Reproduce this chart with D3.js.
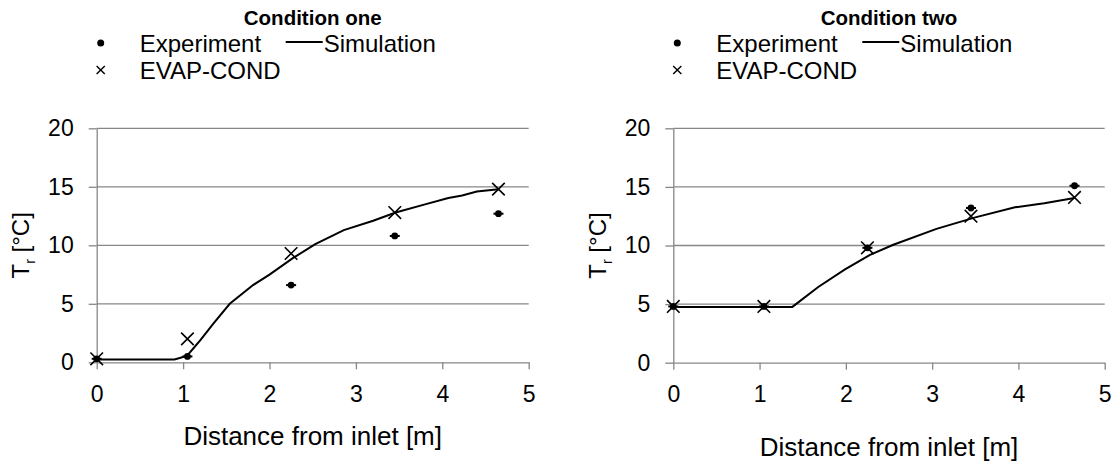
<!DOCTYPE html>
<html>
<head>
<meta charset="utf-8">
<script src="https://cdn.jsdelivr.net/npm/d3@7"></script>
<style>
  html, body { margin: 0; padding: 0; background: #fff; }
  svg { display: block; font-family: "Liberation Sans", Arial, sans-serif; }
</style>
</head>
<body>
<svg id="chart" width="1116" height="461"></svg>
<script>
// Measurement stations along the tube [m]
const distances = [0, 1.05, 2.25, 3.45, 4.65];

// Condition one
const experimentOne = [0.3, 0.5, 6.6, 10.8, 12.7];
const evapCondOne = [0.3, 2.0, 9.3, 12.8, 14.8];
const simDistanceOne = [0, 0.9, 1.0, 1.05, 1.12, 1.2, 1.35, 1.54, 1.81, 2.0, 2.27, 2.53, 2.86, 3.2, 3.46, 3.8, 4.07, 4.23, 4.4, 4.65];
const simulationOne = [0.25, 0.25, 0.45, 0.6, 1.2, 1.9, 3.3, 5.0, 6.6, 7.5, 8.9, 10.1, 11.3, 12.1, 12.8, 13.5, 14.05, 14.25, 14.6, 14.8];

// Condition two
const experimentTwo = [4.8, 4.8, 9.8, 13.2, 15.1];
const evapCondTwo = [4.8, 4.8, 9.8, 12.5, 14.1];
const simDistanceTwo = [0, 1.38, 1.68, 1.99, 2.28, 2.55, 3.05, 3.5, 3.96, 4.3, 4.65];
const simulationTwo = [4.76, 4.76, 6.46, 7.96, 9.2, 10.06, 11.42, 12.4, 13.26, 13.6, 14.05];

// Axis ticks and labels
const xTicks = [0, 1, 2, 3, 4, 5];
const yTicks = [0, 5, 10, 15, 20];
const panelTitles = ["Condition one", "Condition two"];
const xAxisTitle = "Distance from inlet [m]";
const legendLabels = ["Experiment", "Simulation", "EVAP-COND"];

const panels = [
  { title: panelTitles[0], exp: experimentOne, evap: evapCondOne, simX: simDistanceOne, simY: simulationOne,
    left: 96.7, right: 528.7, top: 128.3, bottom: 362.3, xTitleY: 445, yTitleX: 29 },
  { title: panelTitles[1], exp: experimentTwo, evap: evapCondTwo, simX: simDistanceTwo, simY: simulationTwo,
    left: 673.3, right: 1104.7, top: 128.3, bottom: 362.7, xTitleY: 456, yTitleX: 606 }
];

const gridColor = "#878787";
const svg = d3.select("#chart");

panels.forEach(p => {
  const x = d3.scaleLinear().domain([0, 5]).range([p.left, p.right]);
  const y = d3.scaleLinear().domain([0, 20]).range([p.bottom, p.top]);
  const g = svg.append("g");

  // Horizontal gridlines
  g.append("g").selectAll("line").data(yTicks.filter(v => v > 0)).join("line")
    .attr("x1", p.left).attr("x2", p.right)
    .attr("y1", d => y(d)).attr("y2", d => y(d))
    .attr("stroke", gridColor).attr("stroke-width", 1.3);

  // Y axis
  const yAxis = g.append("g").attr("transform", `translate(${p.left},0)`)
    .call(d3.axisLeft(y).tickValues(yTicks).tickFormat(d3.format("d"))
      .tickSize(8).tickSizeOuter(0).tickPadding(15));
  // X axis
  const xAxis = g.append("g").attr("transform", `translate(0,${p.bottom})`)
    .call(d3.axisBottom(x).tickValues(xTicks).tickFormat(d3.format("d"))
      .tickSize(7).tickSizeOuter(0).tickPadding(16));

  [yAxis, xAxis].forEach(a => {
    a.selectAll(".domain").attr("stroke", gridColor).attr("stroke-width", 1.3);
    a.selectAll(".tick line").attr("stroke", gridColor).attr("stroke-width", 1.3);
    a.selectAll(".tick text").attr("fill", "#000").style("font-size", "23px")
      .style("font-family", '"Liberation Sans", Arial, sans-serif');
  });

  // Simulation curve
  const line = d3.line().x(d => x(d[0])).y(d => y(d[1]));
  g.append("path").datum(p.simX.map((d, i) => [d, p.simY[i]]))
    .attr("d", line).attr("fill", "none").attr("stroke", "#000").attr("stroke-width", 2);

  // Experiment points (dot with short horizontal bar)
  const expG = g.append("g").selectAll("g").data(distances.map((d, i) => [d, p.exp[i]])).join("g")
    .attr("transform", d => `translate(${x(d[0])},${y(d[1])})`);
  expG.append("line").attr("x1", -5).attr("x2", 5).attr("stroke", "#000").attr("stroke-width", 2);
  expG.append("circle").attr("r", 3.4).attr("fill", "#000");

  // EVAP-COND points (crosses)
  const cross = d3.symbol().type(d3.symbolX).size(105);
  g.append("g").selectAll("path").data(distances.map((d, i) => [d, p.evap[i]])).join("path")
    .attr("transform", d => `translate(${x(d[0])},${y(d[1])})`)
    .attr("d", cross).attr("fill", "none").attr("stroke", "#000").attr("stroke-width", 1.6);

  const cx = (p.left + p.right) / 2;

  // Panel title
  g.append("text").attr("x", cx).attr("y", 25).attr("text-anchor", "middle")
    .style("font-size", "20.5px").style("font-weight", "bold").text(p.title);

  // Axis titles
  g.append("text").attr("x", cx).attr("y", p.xTitleY).attr("text-anchor", "middle")
    .style("font-size", "26px").text(xAxisTitle);
  const yt = g.append("text").attr("transform", `translate(${p.yTitleX},${(p.top + p.bottom) / 2}) rotate(-90)`)
    .attr("text-anchor", "middle").style("font-size", "24px");
  yt.append("tspan").text("T");
  yt.append("tspan").attr("dy", 6).style("font-size", "14px").text("r");
  yt.append("tspan").attr("dy", -6).text(" [°C]");

  // Legend
  const lx = p.left + 4;
  const leg = g.append("g").style("font-size", "24px");
  leg.append("circle").attr("cx", lx).attr("cy", 43).attr("r", 3.5).attr("fill", "#000");
  leg.append("text").attr("x", lx + 39).attr("y", 51.5).text(legendLabels[0]);
  leg.append("line").attr("x1", lx + 185).attr("x2", lx + 222).attr("y1", 42).attr("y2", 42)
    .attr("stroke", "#000").attr("stroke-width", 2);
  leg.append("text").attr("x", lx + 223).attr("y", 51.5).text(legendLabels[1]);
  leg.append("path").attr("transform", `translate(${lx},70)`)
    .attr("d", d3.symbol().type(d3.symbolX).size(45)).attr("fill", "none").attr("stroke", "#000").attr("stroke-width", 1.4);
  leg.append("text").attr("x", lx + 39).attr("y", 78.5).text(legendLabels[2]);
});
</script>
</body>
</html>
